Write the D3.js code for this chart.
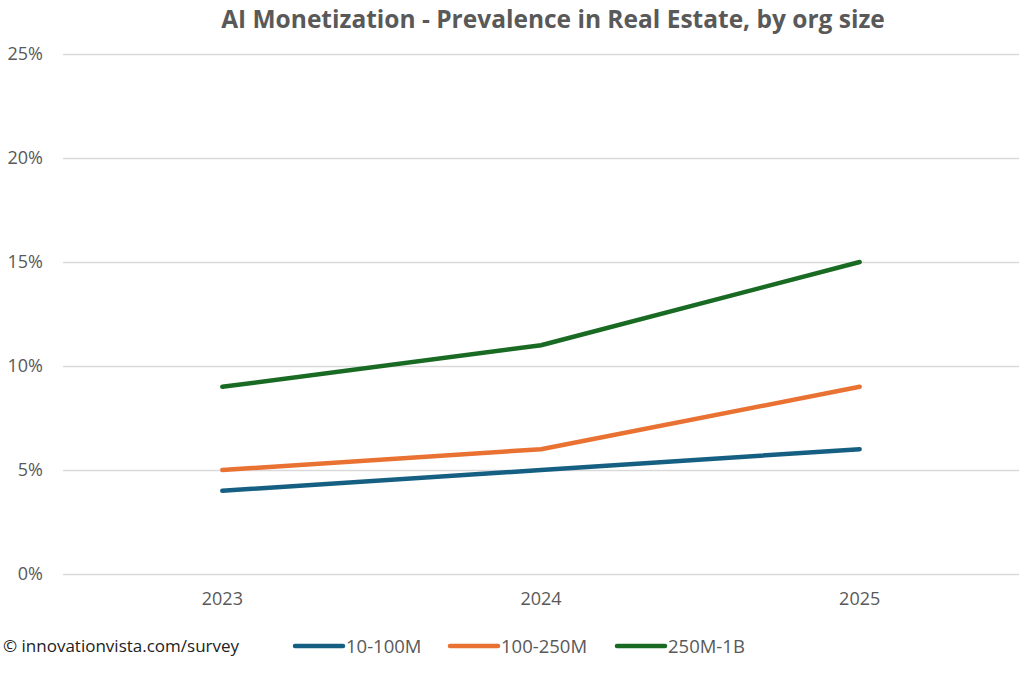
<!DOCTYPE html>
<html>
<head>
<meta charset="utf-8">
<script src="https://cdn.jsdelivr.net/npm/d3@7"></script>
<style>
  body { margin: 0; background: #fff; }
  text { font-family: "Open Sans", "Noto Sans", sans-serif; fill: #595959; }
</style>
</head>
<body>
<script>
// chart data
var years = [ '2023', '2024', '2025' ];
var seriesNames = [ '10-100M', '100-250M', '250M-1B' ];
var seriesColors = [ '#156082', '#E97132', '#196B24' ];
var small = [ 0.04, 0.05, 0.06 ];
var mid = [ 0.05, 0.06, 0.09 ];
var large = [ 0.09, 0.11, 0.15 ];
var yTicks = [ 0, 0.05, 0.10, 0.15, 0.20, 0.25 ];

var Chart = {
  w : 1024,
  h : 675,
  left : 63,
  right : 1019,
  top : 54,
  bottom : 574
};

Chart.draw = function() {
  var svg = d3.select( 'body' ).append( 'svg' )
              .attr( 'width', this.w )
              .attr( 'height', this.h );

  var x = d3.scaleBand().domain( years ).range( [ this.left, this.right ] );
  var y = d3.scaleLinear().domain( [ 0, 0.25 ] ).range( [ this.bottom, this.top ] );

  // title
  svg.append( 'text' )
     .attr( 'x', 553 ).attr( 'y', 28 )
     .attr( 'text-anchor', 'middle' )
     .style( 'font-size', '24.5px' )
     .style( 'font-weight', 'bold' )
     .text( 'AI Monetization - Prevalence in Real Estate, by org size' );

  // gridlines + y labels
  var yAxis = d3.axisLeft( y ).tickValues( yTicks )
                .tickFormat( d3.format( '.0%' ) )
                .tickSize( -( this.right - this.left ) )
                .tickPadding( 20 );
  var gy = svg.append( 'g' )
              .attr( 'transform', 'translate(' + this.left + ',0)' )
              .call( yAxis );
  gy.select( '.domain' ).remove();
  gy.selectAll( 'line' ).attr( 'stroke', '#d9d9d9' ).attr( 'stroke-width', 1.3 );
  gy.selectAll( 'text' ).style( 'font-size', '18px' ).attr( 'fill', '#595959' );

  // x labels
  var xAxis = d3.axisBottom( x ).tickSize( 0 ).tickPadding( 18 );
  var gx = svg.append( 'g' )
              .attr( 'transform', 'translate(0,' + this.bottom + ')' )
              .call( xAxis );
  gx.select( '.domain' ).remove();
  gx.selectAll( 'text' ).style( 'font-size', '18px' ).attr( 'fill', '#595959' );

  // lines
  var line = d3.line()
               .x( function( d, i ) { return x( years[i] ) + x.bandwidth() / 2; } )
               .y( function( d ) { return y( d ); } );
  var allSeries = [ small, mid, large ];
  svg.selectAll( 'path.series' )
     .data( allSeries )
     .enter()
     .append( 'path' )
     .attr( 'class', 'series' )
     .attr( 'd', line )
     .attr( 'fill', 'none' )
     .attr( 'stroke', function( d, i ) { return seriesColors[i]; } )
     .attr( 'stroke-width', 4.5 )
     .attr( 'stroke-linecap', 'round' )
     .attr( 'stroke-linejoin', 'round' );

  // footer
  svg.append( 'text' )
     .attr( 'x', 3 ).attr( 'y', 652 )
     .style( 'font-size', '17px' )
     .style( 'fill', '#222' )
     .text( '\u00a9 innovationvista.com/survey' );

  // legend
  var legendX = [ 295, 450, 617 ];
  var lg = svg.selectAll( 'g.legend' )
              .data( seriesNames )
              .enter()
              .append( 'g' )
              .attr( 'class', 'legend' )
              .attr( 'transform', function( d, i ) { return 'translate(' + legendX[i] + ',646)'; } );
  lg.append( 'line' )
    .attr( 'x1', 0 ).attr( 'x2', 48 )
    .attr( 'stroke', function( d, i ) { return seriesColors[i]; } )
    .attr( 'stroke-width', 4.5 )
    .attr( 'stroke-linecap', 'round' );
  lg.append( 'text' )
    .attr( 'x', 51 ).attr( 'y', 6.5 )
    .style( 'font-size', '18.5px' )
    .text( function( d ) { return d; } );
};

Chart.draw();
</script>
</body>
</html>
